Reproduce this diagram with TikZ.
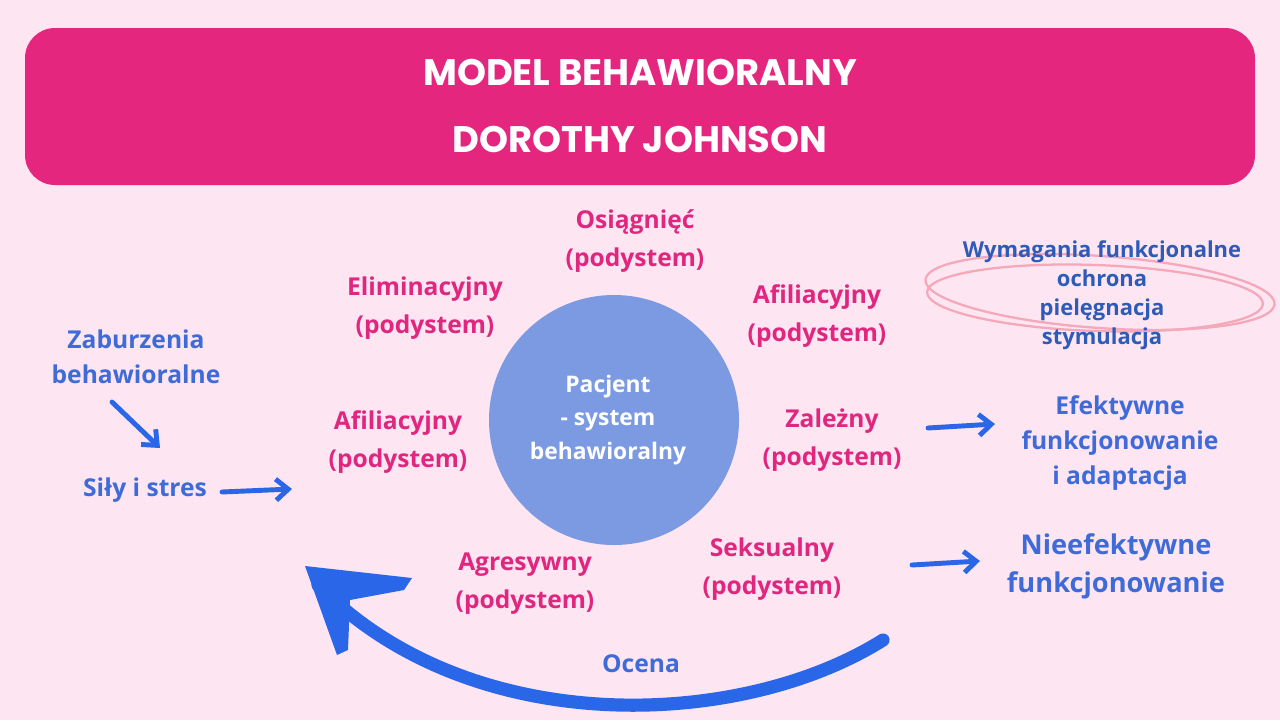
\documentclass[tikz,border=0pt]{standalone}
\usepackage{fontspec}
\setmainfont{Open Sans}
\newfontfamily\titlefont{Poppins}
\usetikzlibrary{arrows.meta, shapes.geometric}
\definecolor{bg}{HTML}{FDE6F2}
\definecolor{banner}{HTML}{E4267F}
\definecolor{pinktext}{HTML}{E0267F}
\definecolor{bluetext}{HTML}{3F6BD8}
\definecolor{darkblue}{HTML}{2E5BB8}
\definecolor{disc}{HTML}{7B9AE2}
\definecolor{arrowblue}{HTML}{2A66E8}
\definecolor{scribble}{HTML}{F4A8BA}

\begin{document}
\begin{tikzpicture}[x=0.02cm, y=-0.02cm,
  sub/.style={align=center, text=pinktext, font=\fontsize{14}{21.5}\selectfont\bfseries},
  outcome/.style={align=center, text=bluetext, font=\fontsize{14}{20}\selectfont\bfseries},
  flow/.style={arrowblue, line width=2.8pt, line cap=round, -{Straight Barb[length=7pt, width=12pt]}}]
  \fill[bg] (0, 0) rectangle (1280, 720);
  \useasboundingbox (0, 0) rectangle (1280, 720);

  % banner
  \fill[banner, rounded corners=0.6cm] (25, 28) rectangle (1255, 185);
  \node[white, font=\titlefont\fontsize{21}{34}\selectfont\bfseries, align=center] (title) at (640, 106)
    {MODEL BEHAWIORALNY\\[4pt] DOROTHY JOHNSON};

  % patient
  \fill[disc] (614, 420) circle (125);
  \node[white, align=center, font=\fontsize{13}{19}\selectfont\bfseries] (patient) at (608, 420)
    {Pacjent\\ - system\\ behawioralny};

  % subsystems
  \node[sub] (achieve) at (635, 241) {Osiągnięć\\(podystem)};
  \node[sub] (elim) at (425, 308) {Eliminacyjny\\(podystem)};
  \node[sub] (affil) at (817, 316) {Afiliacyjny\\(podystem)};
  \node[sub] (affil2) at (398, 442) {Afiliacyjny\\(podystem)};
  \node[sub] (depend) at (832, 440) {Zależny\\(podystem)};
  \node[sub] (aggr) at (525, 584) {Agresywny\\(podystem)};
  \node[sub] (sexual) at (772, 569) {Seksualny\\(podystem)};

  % left side
  \node[outcome] (disorder) at (136, 357) {Zaburzenia\\behawioralne};
  \node[outcome] (stress) at (145, 490) {Siły i stres};
  \coordinate (d1) at (112, 402);
  \coordinate (d2) at (160, 448);
  \coordinate (s1) at (222, 492);
  \coordinate (s2) at (292, 489);
  \draw[flow] (d1) -- (d2);
  \draw[flow] (s1) -- (s2);

  % right side
  \draw[scribble, line width=1.3pt] (1100, 292) ellipse [x radius=175, y radius=36, rotate=-4];
  \draw[scribble, line width=1.3pt] (1095, 298) ellipse [x radius=168, y radius=33, rotate=-2];
  \node[align=center, text=darkblue, font=\fontsize{12.5}{16.5}\selectfont\bfseries] (needs) at (1102, 295)
    {Wymagania funkcjonalne\\ochrona\\pielęgnacja\\stymulacja};
  \node[outcome] (effective) at (1120, 443) {Efektywne\\funkcjonowanie\\i adaptacja};
  \node[outcome, font=\fontsize{15.5}{21.5}\selectfont\bfseries] (ineffective) at (1116, 566) {Nieefektywne\\funkcjonowanie};
  \coordinate (e1) at (928, 428);
  \coordinate (e2) at (995, 424);
  \coordinate (n1) at (912, 565);
  \coordinate (n2) at (980, 561);
  \draw[flow] (e1) -- (e2);
  \draw[flow] (n1) -- (n2);

  % feedback
  \node[outcome] (assess) at (641, 664) {Ocena};
  \coordinate (f1) at (883, 640);
  \coordinate (f2) at (318, 585);
  \draw[arrowblue, line width=7.5pt, line cap=round] (f1) .. controls (740, 730) and (470, 740) .. (f2);
  \fill[arrowblue] (305, 566) -- (412, 578) -- (404, 590) -- (350, 600) -- (348, 650) -- (337, 655) -- cycle;
\end{tikzpicture}
\end{document}
